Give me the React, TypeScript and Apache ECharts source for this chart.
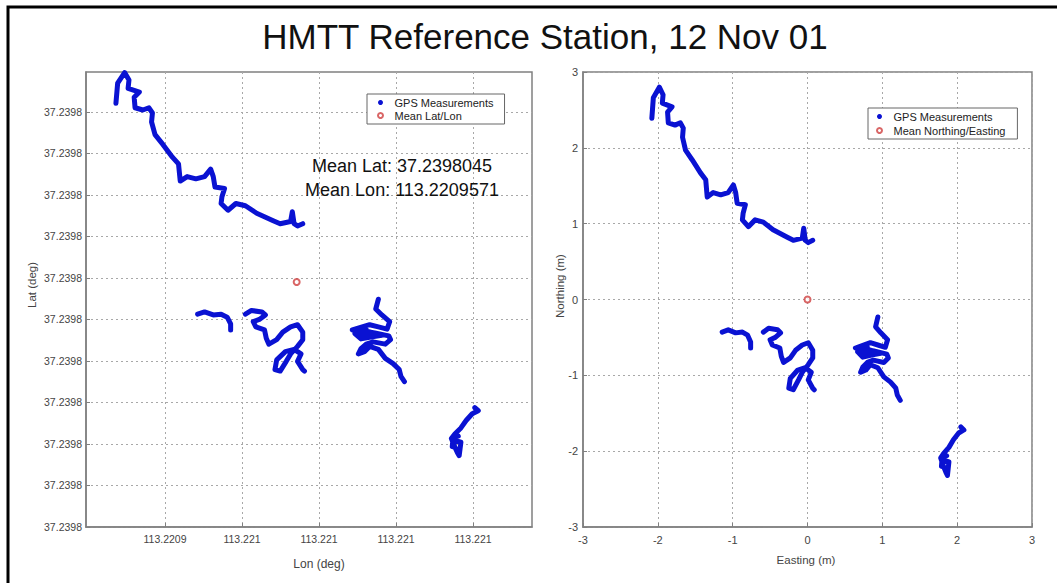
import React, { useEffect, useRef } from "react";
import * as echarts from "echarts";

// ---- data (Easting / Northing in metres, relative to mean) ----
const TRACK_NW: [number, number][] = [
  [-2.08, 2.39], [-2.06, 2.66], [-1.98, 2.8], [-1.93, 2.7], [-1.94, 2.59], [-1.81, 2.54],
  [-1.87, 2.47], [-1.86, 2.33], [-1.77, 2.3], [-1.7, 2.33], [-1.66, 2.26], [-1.67, 2.14],
  [-1.63, 1.97], [-1.54, 1.84], [-1.43, 1.67], [-1.36, 1.58], [-1.34, 1.35], [-1.26, 1.41],
  [-1.16, 1.38], [-1.06, 1.41], [-0.99, 1.51], [-0.96, 1.41], [-0.94, 1.27], [-0.83, 1.25],
  [-0.86, 1.14], [-0.87, 1.05], [-0.79, 0.96], [-0.7, 1.05], [-0.59, 1.02], [-0.46, 0.92],
  [-0.27, 0.82], [-0.19, 0.78], [-0.07, 0.81], [-0.05, 0.94], [-0.03, 0.78], [0.01, 0.75],
  [0.07, 0.78],
];
const TRACK_W: [number, number][] = [
  [-1.14, -0.43], [-1.06, -0.4], [-0.96, -0.44], [-0.87, -0.43], [-0.8, -0.47], [-0.76, -0.56],
  [-0.76, -0.64],
];
const TRACK_MID: [number, number][] = [
  [-0.59, -0.43], [-0.52, -0.38], [-0.4, -0.4], [-0.36, -0.44], [-0.43, -0.5], [-0.5, -0.53],
  [-0.47, -0.6], [-0.37, -0.64], [-0.35, -0.75], [-0.32, -0.83], [-0.23, -0.77], [-0.16, -0.67],
  [-0.07, -0.6], [0.01, -0.57], [0.07, -0.67], [0.07, -0.77], [0.01, -0.86], [-0.07, -0.96],
  [-0.12, -1.06], [-0.19, -1.19], [-0.25, -1.17], [-0.23, -1.04], [-0.13, -0.93], [-0.03, -0.9],
  [0.05, -0.96], [0.01, -1.06], [0.07, -1.17], [0.09, -1.19],
];
const TRACK_E: [number, number][] = [
  [0.94, -0.23], [0.91, -0.36], [0.98, -0.44], [1.07, -0.53], [1.04, -0.63], [0.94, -0.6],
  [0.84, -0.57], [0.64, -0.64], [0.8, -0.63], [0.67, -0.69], [0.74, -0.76], [0.87, -0.73],
  [0.98, -0.71], [0.82, -0.66], [0.72, -0.7], [0.9, -0.68], [1.06, -0.72], [1.08, -0.77],
  [1.02, -0.83], [0.88, -0.8], [0.8, -0.83], [0.74, -0.89], [0.71, -0.96], [0.78, -0.93],
  [0.84, -0.86], [0.94, -0.9], [1.02, -1.02], [1.11, -1.09], [1.18, -1.17], [1.2, -1.26],
  [1.24, -1.33],
];
const TRACK_SE: [number, number][] = [
  [2.05, -1.68], [2.09, -1.72], [2.02, -1.76], [1.95, -1.85], [1.89, -1.95], [1.82, -2.03],
  [1.78, -2.09], [1.81, -2.18], [1.85, -2.28], [1.87, -2.32], [1.89, -2.14], [1.83, -2.12],
  [1.79, -2.2], [1.8, -2.08], [1.86, -2.06],
];
const TRACKS = [TRACK_NW, TRACK_W, TRACK_MID, TRACK_E, TRACK_SE];

const MEAN_LAT = 37.2398045;
const MEAN_LON = 113.2209571;
const DEG_LAT_PER_M = 9.01e-6;
const DEG_LON_PER_M = 1.1285e-5;

// ---- axes ----
const LON_MIN = 113.22092974;
const LON_MAX = 113.22098766;
const LON_TICKS = [113.22094, 113.22095, 113.22096, 113.22097, 113.22098];
const LON_TICK_LABELS = ["113.2209", "113.221", "113.221", "113.221", "113.221"];
const LAT_MIN = 37.239775;
const LAT_MAX = 37.2398298;
const LAT_TICKS = [
  37.239775, 37.23978, 37.239785, 37.23979, 37.239795, 37.2398, 37.239805, 37.23981,
  37.239815, 37.23982, 37.239825,
];
const EN_MIN = -3;
const EN_MAX = 3;

const TITLE = "HMTT Reference Station, 12 Nov 01";
const BLUE = "#0a12d2";
const RED = "#d04040";
const FONT = "'Liberation Sans', Arial, sans-serif";

export default function App() {
  const ref = useRef<HTMLDivElement>(null);
  useEffect(() => {
    if (!ref.current) return;
    const chart = echarts.init(ref.current, undefined, { renderer: "svg" });

    const rightData: any[] = [];
    const leftData: any[] = [];
    TRACKS.forEach((t, i) => {
      if (i > 0) {
        rightData.push(["-", "-"]);
        leftData.push(["-", "-"]);
      }
      t.forEach(([e, n]) => {
        rightData.push([e, n]);
        leftData.push([MEAN_LON + e * DEG_LON_PER_M, MEAN_LAT + n * DEG_LAT_PER_M]);
      });
    });

    const gridLine = { show: true, lineStyle: { type: [2, 3], color: "#a8a8a8", width: 1 } };
    const axLine = { show: true, onZero: false, lineStyle: { color: "#808080", width: 1.5 } };
    const lbl = { color: "#444", fontFamily: FONT, fontSize: 10.5 };
    const legendBase = {
      orient: "vertical",
      selectedMode: false,
      itemWidth: 18,
      itemHeight: 5,
      itemGap: 2,
      borderColor: "#666",
      borderWidth: 1,
      backgroundColor: "#fff",
      textStyle: { fontSize: 11, color: "#222", fontFamily: FONT },
    };

    chart.setOption({
      animation: false,
      backgroundColor: "#fff",
      title: {
        text: TITLE,
        left: 540,
        top: 14,
        textAlign: "center",
        textStyle: { fontSize: 35, fontWeight: "normal", color: "#111", fontFamily: FONT },
      },
      grid: [
        { left: 86, top: 72, width: 446, height: 455, show: true, borderColor: "#808080", borderWidth: 1.5, backgroundColor: "#fff" },
        { left: 583, top: 72, width: 449, height: 455, show: true, borderColor: "#808080", borderWidth: 1.5, backgroundColor: "#fff" },
      ],
      xAxis: [
        {
          type: "value",
          gridIndex: 0,
          min: LON_MIN,
          max: LON_MAX,
          axisLine: axLine,
          axisTick: { show: true, inside: true, length: 4, customValues: LON_TICKS, lineStyle: { color: "#808080" } },
          axisLabel: {
            ...lbl,
            margin: 6,
            customValues: LON_TICKS,
            formatter: (v: number) => {
              let bi = 0;
              LON_TICKS.forEach((t, i) => {
                if (Math.abs(t - v) < Math.abs(LON_TICKS[bi] - v)) bi = i;
              });
              return LON_TICK_LABELS[bi];
            },
          },
          splitLine: gridLine,
        },
        {
          type: "value",
          gridIndex: 1,
          min: EN_MIN,
          max: EN_MAX,
          interval: 1,
          axisLine: axLine,
          axisTick: { show: true, inside: true, length: 4, lineStyle: { color: "#808080" } },
          axisLabel: { ...lbl, fontSize: 11, margin: 7, showMinLabel: true, showMaxLabel: true },
          splitLine: gridLine,
        },
      ],
      yAxis: [
        {
          type: "value",
          gridIndex: 0,
          min: LAT_MIN,
          max: LAT_MAX,
          axisLine: axLine,
          axisTick: { show: true, inside: true, length: 4, customValues: LAT_TICKS, lineStyle: { color: "#808080" } },
          axisLabel: { ...lbl, margin: 4, customValues: LAT_TICKS, formatter: (v: number) => v.toFixed(4) },
          splitLine: gridLine,
        },
        {
          type: "value",
          gridIndex: 1,
          min: EN_MIN,
          max: EN_MAX,
          interval: 1,
          axisLine: axLine,
          axisTick: { show: true, inside: true, length: 4, lineStyle: { color: "#808080" } },
          axisLabel: { ...lbl, fontSize: 11, margin: 5, showMinLabel: true, showMaxLabel: true },
          splitLine: gridLine,
        },
      ],
      legend: [
        {
          ...legendBase,
          left: 367,
          top: 94,
          padding: [3, 11, 3, 10],
          data: [
            { name: "GPS Measurements", icon: "circle" },
            { name: "Mean Lat/Lon", icon: "emptyCircle" },
          ],
        },
        {
          ...legendBase,
          left: 868,
          top: 108,
          padding: [3, 12, 3, 8],
          itemGap: 3,
          data: [
            { name: "GPS Measurements", icon: "circle" },
            { name: "Mean Northing/Easting", icon: "emptyCircle" },
          ],
        },
      ],
      series: [
        {
          type: "line",
          name: "GPS Measurements",
          xAxisIndex: 0,
          yAxisIndex: 0,
          data: leftData,
          showSymbol: false,
          connectNulls: false,
          color: BLUE,
          itemStyle: { color: BLUE },
          lineStyle: { width: 5, color: BLUE, cap: "round", join: "round" },
          silent: true,
        },
        {
          type: "scatter",
          name: "Mean Lat/Lon",
          xAxisIndex: 0,
          yAxisIndex: 0,
          data: [[MEAN_LON, MEAN_LAT]],
          symbol: "emptyCircle",
          symbolSize: 6,
          itemStyle: { color: RED, borderWidth: 1 },
          silent: true,
        },
        {
          type: "line",
          name: "GPS Measurements",
          xAxisIndex: 1,
          yAxisIndex: 1,
          data: rightData,
          showSymbol: false,
          connectNulls: false,
          color: BLUE,
          itemStyle: { color: BLUE },
          lineStyle: { width: 5, color: BLUE, cap: "round", join: "round" },
          silent: true,
        },
        {
          type: "scatter",
          name: "Mean Northing/Easting",
          xAxisIndex: 1,
          yAxisIndex: 1,
          data: [[0, 0]],
          symbol: "emptyCircle",
          symbolSize: 6,
          itemStyle: { color: RED, borderWidth: 1 },
          silent: true,
        },
      ],
      graphic: [
        {
          type: "rect",
          shape: { x: 8, y: 7, width: 1100, height: 640 },
          style: { fill: "none", stroke: "#000", lineWidth: 3 },
          silent: true,
          z: 100,
        },
        {
          type: "text",
          x: 402,
          y: 166,
          style: { text: `Mean Lat: ${MEAN_LAT}`, fontSize: 18, fill: "#111", fontFamily: FONT, textAlign: "center", textVerticalAlign: "middle" },
          z: 50,
        },
        {
          type: "text",
          x: 402,
          y: 190,
          style: { text: `Mean Lon: ${MEAN_LON}`, fontSize: 18, fill: "#111", fontFamily: FONT, textAlign: "center", textVerticalAlign: "middle" },
          z: 50,
        },
        {
          type: "text",
          x: 319,
          y: 564,
          style: { text: "Lon (deg)", fontSize: 12, fill: "#444", fontFamily: FONT, textAlign: "center", textVerticalAlign: "middle" },
        },
        {
          type: "text",
          x: 806,
          y: 560,
          style: { text: "Easting (m)", fontSize: 11.5, fill: "#444", fontFamily: FONT, textAlign: "center", textVerticalAlign: "middle" },
        },
        {
          type: "text",
          x: 32,
          y: 285,
          rotation: Math.PI / 2,
          style: { text: "Lat (deg)", fontSize: 11.5, fill: "#444", fontFamily: FONT, textAlign: "center", textVerticalAlign: "middle" },
        },
        {
          type: "text",
          x: 560,
          y: 286,
          rotation: Math.PI / 2,
          style: { text: "Northing (m)", fontSize: 11.5, fill: "#444", fontFamily: FONT, textAlign: "center", textVerticalAlign: "middle" },
        },
      ],
    });
    return () => chart.dispose();
  }, []);

  return (
    <div
      ref={ref}
      style={{ position: "absolute", left: 0, top: 0, width: 1057, height: 583, background: "#fff" }}
    />
  );
}
